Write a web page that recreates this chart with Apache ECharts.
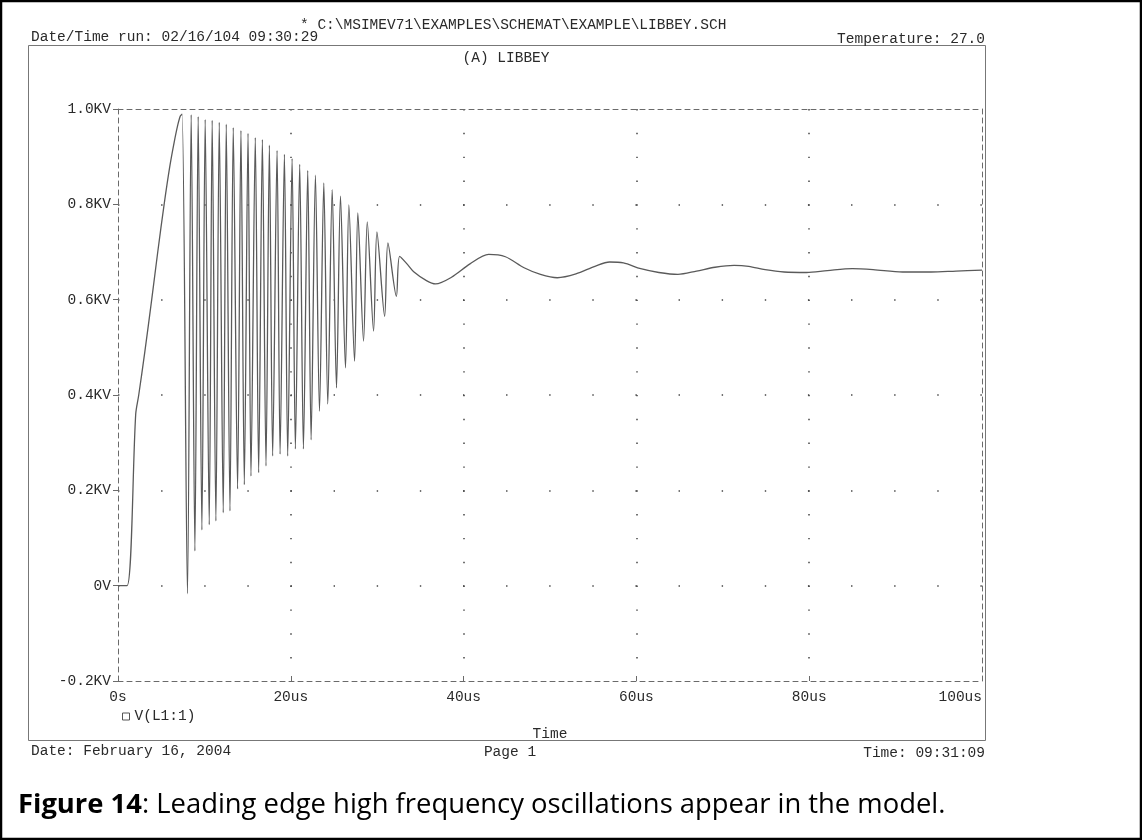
<!DOCTYPE html>
<html>
<head>
<meta charset="utf-8">
<script src="https://cdn.jsdelivr.net/npm/echarts@6/dist/echarts.min.js"></script>
<style>
html,body{margin:0;padding:0;background:#fff;}
#chart{width:1142px;height:840px;}
</style>
</head>
<body>
<div id="chart"></div>
<script>
// ---- data ----
const timeUs = [
  0, 1.05, 2.05, 2.4, 3.1, 3.9, 4.6, 5.34, 6.0, 6.5, 6.9, 7.2, 7.42,
  8.04, 8.47, 8.90, 9.28, 9.71, 10.09, 10.56, 10.90, 11.33, 11.72, 12.18, 12.53,
  12.96, 13.34, 13.84, 14.23, 14.62, 15.05, 15.39, 15.89, 16.28, 16.71, 17.13, 17.52,
  17.90, 18.41, 18.76, 19.26, 19.64, 20.15, 20.53, 21.03, 21.46, 21.96, 22.35, 22.85,
  23.32, 23.82, 24.28, 24.79, 25.29, 25.75, 26.33, 26.72, 27.38, 27.76, 28.42, 28.85,
  29.58, 29.97, 30.86, 31.24, 32.22, 32.60,
  33.5, 34.26, 35.7, 36.75, 38.6, 40.74, 42.9, 44.84, 47.0, 48.9, 50.85, 53.0,
  55.2, 56.9, 58.5, 60.5, 62.6, 64.8, 66.96, 69.1, 71.3, 73.0, 74.9, 77.1,
  79.7, 82.1, 85.0, 87.4, 90.8, 94.1, 97.0, 100
];
const voltsKV = [
  0, 0, 0.36, 0.40, 0.49, 0.60, 0.70, 0.80, 0.88, 0.93, 0.965, 0.985, 0.989,
  -0.017, 0.988, 0.073, 0.984, 0.117, 0.978, 0.128, 0.976, 0.136, 0.972, 0.153, 0.968,
  0.157, 0.961, 0.203, 0.955, 0.212, 0.949, 0.230, 0.940, 0.237, 0.936, 0.251, 0.924,
  0.272, 0.913, 0.276, 0.905, 0.272, 0.896, 0.287, 0.884, 0.287, 0.871, 0.306, 0.861,
  0.366, 0.845, 0.381, 0.831, 0.415, 0.817, 0.457, 0.799, 0.471, 0.782, 0.513, 0.763,
  0.534, 0.742, 0.565, 0.719, 0.607, 0.691,
  0.674, 0.658, 0.640, 0.633, 0.647, 0.675, 0.695, 0.690, 0.667, 0.653, 0.646, 0.654,
  0.670, 0.679, 0.677, 0.665, 0.657, 0.653, 0.660, 0.668, 0.672, 0.670, 0.663, 0.658,
  0.657, 0.661, 0.665, 0.663, 0.658, 0.658, 0.660, 0.662
];
const xTickLabels = ['0s', '20us', '40us', '60us', '80us', '100us'];
const yTickLabels = ['-0.2KV', '0V', '0.2KV', '0.4KV', '0.6KV', '0.8KV', '1.0KV'];
const seriesName = 'V(L1:1)';

// ---- chart ----
const MONO = '"Liberation Mono", "DejaVu Sans Mono", monospace';
const SANS = '"Open Sans", "Noto Sans", sans-serif';
const TXT = '#2a2a2a';
const AX = '#6a6a6a';
const chart = echarts.init(document.getElementById('chart'), null, {renderer: 'canvas'});
const points = timeUs.map((t, i) => [t, voltsKV[i]]);

const monoText = (text, x, y, align) => ({
  type: 'text', x: x, y: y, silent: true,
  style: {text: text, fill: TXT, font: '14.5px ' + MONO, align: align || 'left', verticalAlign: 'middle'}
});

chart.setOption({
  animation: false,
  backgroundColor: '#fff',
  grid: {left: 118, right: 160, top: 109, bottom: 159},
  legend: {
    data: [seriesName], left: 117, top: 704, icon: 'rect', itemWidth: 7, itemHeight: 7, itemGap: 6,
    itemStyle: {color: '#fff', borderColor: '#555', borderWidth: 1},
    textStyle: {fontFamily: MONO, fontSize: 14.5, color: TXT}
  },
  xAxis: [{
    type: 'value', min: 0, max: 100, interval: 20, position: 'bottom',
    name: 'Time', nameLocation: 'middle', nameGap: 46,
    nameTextStyle: {fontFamily: MONO, fontSize: 14.5, color: TXT},
    axisLine: {show: true, onZero: false, lineStyle: {color: AX, type: [5, 4], width: 1}},
    axisTick: {show: true, inside: true, length: 5, lineStyle: {color: AX}},
    axisLabel: {
      margin: 9, fontFamily: MONO, fontSize: 14.5, color: TXT,
      alignMinLabel: 'center', alignMaxLabel: 'right',
      formatter: v => xTickLabels[Math.round(v / 20)]
    },
    splitLine: {show: true, showMinLine: false, showMaxLine: false,
      lineStyle: {color: '#444', width: 1.5, type: [1.4, 22.43]}}
  }, {
    type: 'value', min: 0, max: 100, interval: 20, position: 'top',
    axisLine: {show: true, onZero: false, lineStyle: {color: AX, type: [5, 4], width: 1}},
    axisTick: {show: false}, axisLabel: {show: false}, splitLine: {show: false}
  }],
  yAxis: [{
    type: 'value', min: -0.2, max: 1.0, interval: 0.2, position: 'left',
    axisLine: {show: true, onZero: false, lineStyle: {color: AX, type: [5, 4], width: 1}},
    axisTick: {show: true, inside: false, length: 5, lineStyle: {color: AX}},
    axisLabel: {
      margin: 7, fontFamily: MONO, fontSize: 14.5, color: TXT,
      formatter: v => yTickLabels[Math.round((v + 0.2) / 0.2)]
    },
    splitLine: {show: true, showMinLine: false, showMaxLine: false,
      lineStyle: {color: '#444', width: 1.5, type: [1.4, 41.72]}}
  }, {
    type: 'value', min: -0.2, max: 1.0, interval: 0.2, position: 'right',
    axisLine: {show: true, onZero: false, lineStyle: {color: AX, type: [5, 4], width: 1}},
    axisTick: {show: false}, axisLabel: {show: false}, splitLine: {show: false}
  }],
  series: [{
    name: seriesName, type: 'line', xAxisIndex: 0, yAxisIndex: 0,
    data: points, showSymbol: false, smooth: 0.3, clip: true,
    lineStyle: {color: '#5a5a5a', width: 1.3}, itemStyle: {color: '#555'}
  }],
  graphic: [
    {type: 'rect', silent: true, shape: {x: 1, y: 1, width: 1140, height: 838},
      style: {fill: 'none', stroke: '#000', lineWidth: 2.5}},
    {type: 'rect', silent: true, shape: {x: 28.5, y: 45.5, width: 957, height: 695},
      style: {fill: 'none', stroke: '#777', lineWidth: 1}},
    monoText('* C:\\MSIMEV71\\EXAMPLES\\SCHEMAT\\EXAMPLE\\LIBBEY.SCH', 300, 25),
    monoText('Date/Time run: 02/16/104 09:30:29', 31, 37),
    monoText('Temperature: 27.0', 985, 39, 'right'),
    monoText('(A) LIBBEY', 506, 58, 'center'),
    monoText('Date: February 16, 2004', 31, 751),
    monoText('Page 1', 510, 752, 'center'),
    monoText('Time: 09:31:09', 985, 753, 'right'),
    {type: 'text', x: 18, y: 805, silent: true,
      style: {
        text: '{b|Figure 14}: Leading edge high frequency oscillations appear in the model.',
        fill: '#000', fontFamily: SANS, fontSize: 27.4,
        verticalAlign: 'middle',
        rich: {b: {fontWeight: 'bold', fontFamily: SANS, fontSize: 27.4, fill: '#000'}}
      }}
  ]
});
</script>
</body>
</html>
